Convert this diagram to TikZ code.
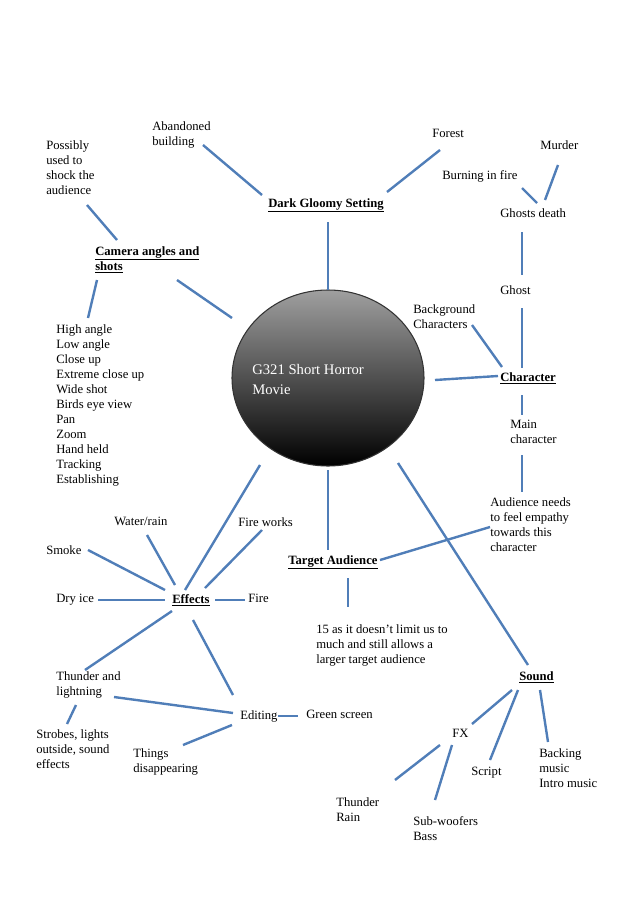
\documentclass[tikz,border=0pt]{standalone}
\usepackage{fontspec}
\setmainfont{Liberation Serif}
\begin{document}
\begin{tikzpicture}[x=0.75pt,y=-0.75pt,
  ln/.style={line width=1.8pt,color={rgb,255:red,80;green,126;blue,184}},
  t/.style={anchor=north west,inner sep=0pt,align=left,font=\fontsize{9.5}{11.3}\selectfont},
  h/.style={t,font=\fontsize{9.5}{11.3}\selectfont\bfseries}]
\useasboundingbox (0,0) rectangle (638,903);
\shade[top color=gray!75,bottom color=black,draw=black!80,line width=0.8pt] (328,378) ellipse (96 and 88);
\node[t,text=white,font=\fontsize{11}{15}\selectfont] (c) at (252,364) {G321 Short Horror\\Movie};
% texts
\node[t] (ab) at (152,121) {Abandoned\\building};
\node[t] (fo) at (432,129) {Forest};
\node[t] (mu) at (540,140) {Murder};
\node[h] (dg) at (268,198) {\underline{Dark Gloomy Setting}};
\node[t] (bf) at (442,170) {Burning in fire};
\node[t] (gd) at (500,208) {Ghosts death};
\node[t] (po) at (46,140) {Possibly\\used to\\shock the\\audience};
\node[h] (ca) at (95,246) {\underline{Camera angles and}\\\underline{shots}};
\node[t] (gh) at (500,285) {Ghost};
\node[t] (bc) at (413,304) {Background\\Characters};
\node[t] (li) at (56,324) {High angle\\Low angle\\Close up\\Extreme close up\\Wide shot\\Birds eye view\\Pan\\Zoom\\Hand held\\Tracking\\Establishing};
\node[h] (ch) at (500,372) {\underline{Character}};
\node[t] (mc) at (510,420) {Main\\character};
\node[t] (an) at (490,497) {Audience needs\\to feel empathy\\towards this\\character};
\node[t] (wr) at (114,517) {Water/rain};
\node[t] (fw) at (238,517) {Fire works};
\node[t] (sm) at (46,545) {Smoke};
\node[h] (ta) at (288,555) {\underline{Target Audience}};
\node[t] (di) at (56,594) {Dry ice};
\node[h] (ef) at (172,594) {\underline{Effects}};
\node[t] (fi) at (248,594) {Fire};
\node[t] (ft) at (316,624) {15 as it doesn't limit us to\\much and still allows a\\larger target audience};
\node[t] (th) at (56,671) {Thunder and\\lightning};
\node[h] (so) at (519,671) {\underline{Sound}};
\node[t] (ed) at (240,710) {Editing};
\node[t] (gs) at (306,710) {Green screen};
\node[t] (st) at (36,729) {Strobes, lights\\outside, sound\\effects};
\node[t] (fx) at (452,729) {FX};
\node[t] (td) at (133,748) {Things\\disappearing};
\node[t] (bm) at (539,748) {Backing\\music\\Intro music};
\node[t] (sc) at (471,767) {Script};
\node[t] (tr) at (336,797) {Thunder\\Rain};
\node[t] (sw) at (413,816) {Sub-woofers\\Bass};
% lines
\foreach \xa/\ya/\xb/\yb in {203/145/262/195, 440/150/387/192, 328/222/328/290, 558/165/545/200,
 522/188/537/203, 522/232/522/275, 522/308/522/368, 472/325/502/367, 435/380/498/376,
 522/395/522/415, 522/455/522/492, 490/527/380/560, 328/470/328/550, 348/578/348/607,
 398/463/528/665, 512/690/472/724, 518/690/490/760, 540/690/548/742, 440/745/395/780,
 452/745/435/800, 87/205/117/240, 177/280/232/318, 97/280/88/318, 260/465/185/590,
 262/530/205/588, 147/535/175/585, 88/550/165/590, 98/600/165/600, 215/600/245/600,
 172/611/85/670, 193/620/233/695, 114/697/233/713, 76/705/67/724, 183/745/232/725,
 278/716/298/716}
 \draw[ln] (\xa,\ya) -- (\xb,\yb);
\end{tikzpicture}
\end{document}
